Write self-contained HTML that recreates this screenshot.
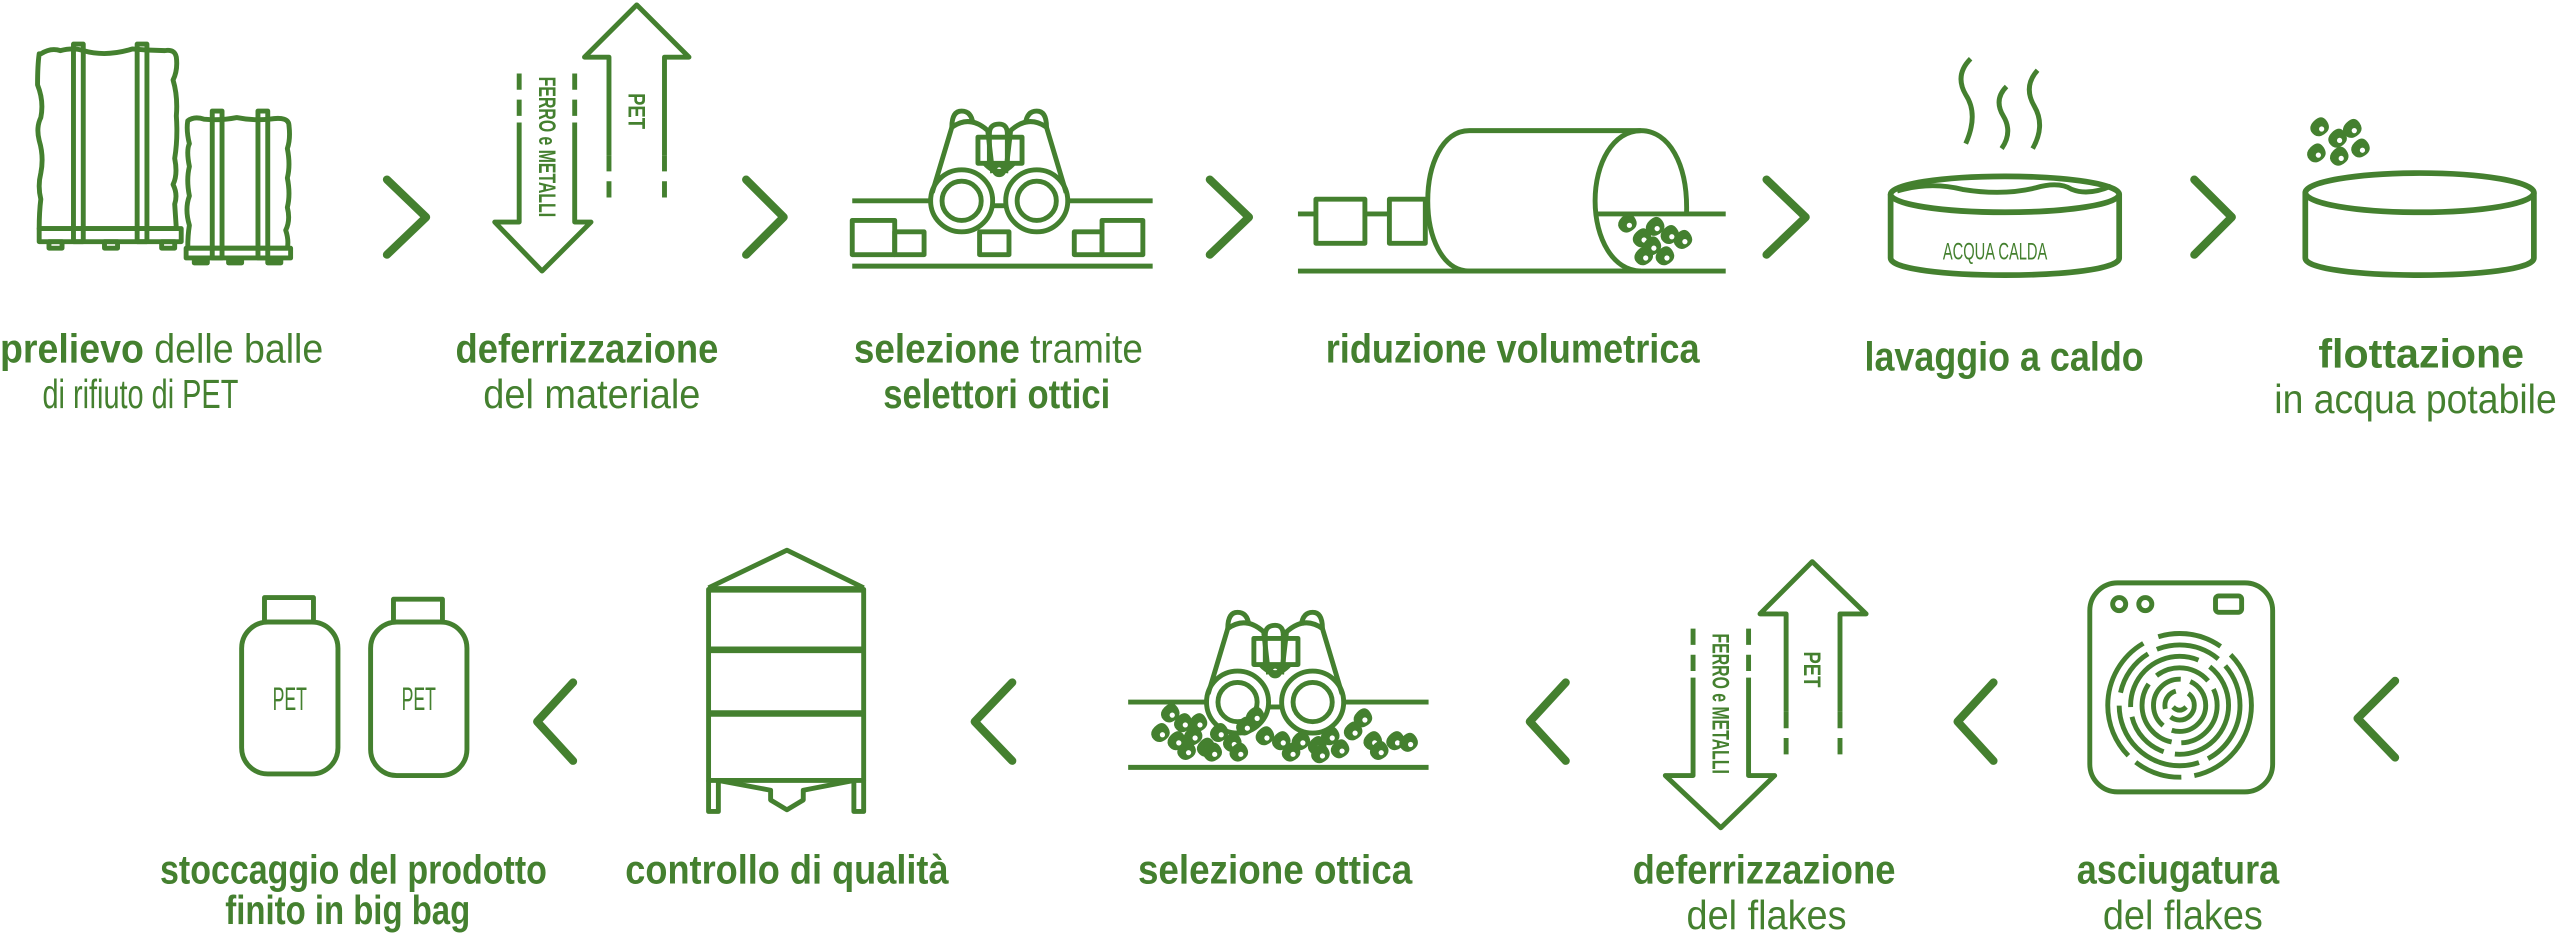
<!DOCTYPE html>
<html><head><meta charset="utf-8"><style>
html,body{margin:0;padding:0;background:#fff;}
svg{display:block;}
text{font-family:"Liberation Sans",sans-serif;fill:#44802f;}
.b{font-weight:bold;font-size:25px;}
.l{font-weight:normal;font-size:25px;}
.c{font-family:"Liberation Sans Narrow","Liberation Sans",sans-serif;font-weight:bold;font-size:15px;}
</style></head><body>
<svg width="2560" height="938" viewBox="0 0 1568 574.5" preserveAspectRatio="none" xmlns="http://www.w3.org/2000/svg">
<defs>
<g id="fl0"><path d="M-3,-3 q3,-3 5,0 q2,3 -1,5 q-3,2 -5,-1 q-1,-2 1,-4z" fill="#44802f"/><circle cx="0" cy="0" r="1" fill="#fff"/></g>
<g id="fl"><use href="#fl0" transform="scale(1.6)"/></g>
</defs>
<g fill="none" stroke="#44802f" stroke-width="3" stroke-linejoin="round">
<g stroke-width="5" stroke-linecap="round">
<polyline points="237,110 261,133 237,156"/>
<polyline points="457,110 480,133 457,156"/>
<polyline points="741,110 765,133 741,156"/>
<polyline points="1082,110 1106,133 1082,156"/>
<polyline points="1344,110 1367,133 1344,156"/>
<polyline points="1467,417 1444,440 1467,464"/>
<polyline points="1221,418 1199,442 1221,466"/>
<polyline points="959,418 937,442 959,466"/>
<polyline points="620,418 597,442 620,466"/>
<polyline points="351,418 329,442 351,466"/>
</g>
<path d="M25,33 q6,-4 12,-2 q8,-2 14,0 q14,4 30,-1 q10,1 20,1 q6,-1 7,4 q1,8 -2,14 q3,10 2,22 q1,14 -1,26 q2,10 -1,16 q3,6 1,12 L108,140 L24,140 q0,-10 1,-18 q-2,-8 0,-16 q2,-10 -1,-20 q-2,-8 1,-14 q2,-10 -2,-20 q0,-12 1,-19z"/>
<rect x="45" y="27" width="6" height="121"/><rect x="84" y="27" width="6" height="121"/>
<rect x="24" y="140" width="87" height="8"/>
<rect x="30" y="148" width="8" height="4"/><rect x="64" y="148" width="8" height="4"/><rect x="99" y="148" width="8" height="4"/>
<path d="M115,74 q4,-3 10,-1 q10,1 20,-1 q10,2 20,1 q12,-2 12,4 q1,8 -1,14 q2,10 0,18 q2,10 0,18 q2,8 -1,14 q2,6 1,11 L115,152 q0,-8 1,-14 q-3,-10 0,-18 q-2,-10 0,-18 q-2,-10 0,-14 q-2,-8 -1,-14z"/>
<rect x="130" y="68" width="6" height="90"/><rect x="158" y="68" width="6" height="90"/>
<rect x="114" y="152" width="64" height="6"/>
<rect x="119" y="158" width="8" height="3"/><rect x="140" y="158" width="8" height="3"/><rect x="164" y="158" width="8" height="3"/>
<path d="M318,75 V136 H303 L332,166 L362,136 H352 V75"/>
<path d="M318,45 V75 M352,45 V75" stroke-dasharray="10,6"/>
<path d="M373,95 V35 H358 L390,3 L422,35 H407 V95"/>
<path d="M373,95 V126 M407,95 V126" stroke-dasharray="10,6"/>
<g id="bino">
<line x1="522" y1="123" x2="571" y2="123"/><line x1="655" y1="123" x2="706" y2="123"/>
<line x1="522" y1="163" x2="706" y2="163"/>
<circle cx="589" cy="123" r="19"/><circle cx="589" cy="123" r="12"/>
<circle cx="635" cy="123" r="19"/><circle cx="635" cy="123" r="12"/>
<path d="M571,118 L583,78 Q594,70 605,80 L608,106"/>
<path d="M653,118 L641,78 Q630,70 619,80 L616,106"/>
<path d="M583,78 q0,-10 6,-10 q6,0 7,8"/><path d="M641,78 q0,-10 -6,-10 q-6,0 -7,8"/>
<rect x="599" y="84" width="27" height="16"/>
<path d="M606,100 V82 q0,-6 6,-6 q5,0 5,6 V100"/>
<circle cx="612" cy="104" r="3"/>
<path d="M603,100 q9,10 18,0"/>
<line x1="608" y1="126" x2="616" y2="126"/>
</g>
<rect x="522" y="135" width="26" height="21"/><rect x="548" y="142" width="18" height="14"/>
<rect x="600" y="142" width="18" height="14"/><rect x="658" y="142" width="17" height="14"/><rect x="675" y="135" width="25" height="21"/>
<line x1="795" y1="131" x2="806" y2="131"/><line x1="836" y1="131" x2="851" y2="131"/>
<rect x="806" y="122" width="30" height="27"/><rect x="851" y="122" width="22" height="27"/>
<line x1="795" y1="166" x2="1057" y2="166"/>
<line x1="978" y1="131" x2="1057" y2="131"/>
<path d="M1005,80 H900 C866,80 866,166 900,166 H1005"/>
<path d="M1033,131 C1034,100 1022,80 1005,80 C988,80 977,100 977,123 C977,146 988,166 1005,166"/>
<ellipse cx="1228" cy="119" rx="70" ry="11" stroke-width="3.5"/>
<path d="M1158,119 V158 C1158,172 1298,172 1298,158 V119" stroke-width="3.5"/>
<path d="M1162,117 q20,-6 40,-1 q25,4 45,-1 q14,-4 22,1 q10,4 24,-2" stroke-width="3"/>
<path d="M1207,36 q-10,10 -3,22 q8,12 0,30"/>
<path d="M1229,53 q-8,8 -2,18 q6,10 -1,20"/>
<path d="M1248,43 q-9,10 -2,22 q7,12 -1,26"/>
<ellipse cx="1482" cy="118" rx="70" ry="12" stroke-width="3.5"/>
<path d="M1412,118 V158 C1412,172 1552,172 1552,158 V118" stroke-width="3.5"/>
<rect x="162" y="366" width="30" height="15"/>
<rect x="148" y="381" width="59" height="93" rx="16"/>
<rect x="241" y="367" width="30" height="14"/>
<rect x="227" y="381" width="59" height="94" rx="16"/>
<path d="M434,360 L482,337 L529,360"/>
<rect x="434" y="361" width="95" height="117"/>
<line x1="434" y1="361" x2="529" y2="361" stroke-width="4"/>
<line x1="434" y1="398" x2="529" y2="398" stroke-width="4"/>
<line x1="434" y1="437" x2="529" y2="437" stroke-width="4"/>
<path d="M434,478 V497 H440 V478 M523,478 V497 H529 V478"/>
<path d="M440,478 L472,484 V490 L482,496 L492,490 V484 L523,478"/>
<use href="#bino" transform="translate(169,307)"/>
<path d="M1037,415 V475 H1020 L1054,507 L1087,475 H1071 V415"/>
<path d="M1037,385 V415 M1071,385 V415" stroke-dasharray="10,6"/>
<path d="M1094,436 V376 H1078 L1110,344 L1143,376 H1127 V436"/>
<path d="M1094,436 V466 M1127,436 V466" stroke-dasharray="10,6"/>
<rect x="1280" y="357" width="112" height="128" rx="17"/>
<circle cx="1298" cy="370" r="4"/><circle cx="1314" cy="370" r="4"/>
<rect x="1357" y="365" width="16" height="10" rx="2"/>
<g stroke-width="3">
<circle cx="1335" cy="432" r="44" stroke-dasharray="60,8,30,6,80,10,40,8"/>
<circle cx="1335" cy="432" r="37" stroke-dasharray="40,6,70,8,30,6"/>
<circle cx="1335" cy="432" r="30" stroke-dasharray="50,7,30,6,60,8"/>
<circle cx="1335" cy="432" r="23" stroke-dasharray="35,6,45,7"/>
<circle cx="1335" cy="432" r="16" stroke-dasharray="30,6,40,6"/>
<circle cx="1335" cy="432" r="9" stroke-dasharray="20,6,14,8"/>
<path d="M1331,433 q4,4 8,0"/>
</g>
</g>
<g>
<use href="#fl" x="998" y="138"/><use href="#fl" x="1007" y="147"/><use href="#fl" x="1015" y="140"/><use href="#fl" x="1013" y="152"/><use href="#fl" x="1024" y="145"/><use href="#fl" x="1032" y="148"/><use href="#fl" x="1008" y="158"/><use href="#fl" x="1021" y="158"/>
<use href="#fl" x="1422" y="79"/><use href="#fl" x="1433" y="86"/><use href="#fl" x="1420" y="95"/><use href="#fl" x="1434" y="97"/><use href="#fl" x="1447" y="92"/><use href="#fl" x="1442" y="80"/>
<use href="#fl" x="718" y="438"/><use href="#fl" x="726" y="444"/><use href="#fl" x="712" y="450"/><use href="#fl" x="722" y="455"/><use href="#fl" x="732" y="452"/><use href="#fl" x="728" y="461"/><use href="#fl" x="740" y="459"/><use href="#fl" x="748" y="450"/><use href="#fl" x="756" y="456"/><use href="#fl" x="764" y="446"/><use href="#fl" x="770" y="440"/><use href="#fl" x="776" y="452"/><use href="#fl" x="786" y="455"/><use href="#fl" x="798" y="455"/><use href="#fl" x="808" y="458"/><use href="#fl" x="816" y="452"/><use href="#fl" x="822" y="460"/><use href="#fl" x="830" y="449"/><use href="#fl" x="836" y="441"/><use href="#fl" x="842" y="455"/><use href="#fl" x="846" y="461"/><use href="#fl" x="856" y="455"/><use href="#fl" x="864" y="456"/><use href="#fl" x="744" y="462"/><use href="#fl" x="735" y="444"/><use href="#fl" x="810" y="463"/><use href="#fl" x="760" y="462"/><use href="#fl" x="792" y="462"/>
</g>
<text class="c" transform="translate(330,47) rotate(90)" textLength="86" lengthAdjust="spacingAndGlyphs">FERRO e METALLI</text>
<text class="c" transform="translate(385,57) rotate(90)" textLength="22" lengthAdjust="spacingAndGlyphs">PET</text>
<text class="c" transform="translate(1049,388) rotate(90)" textLength="86" lengthAdjust="spacingAndGlyphs">FERRO e METALLI</text>
<text class="c" transform="translate(1105,399) rotate(90)" textLength="22" lengthAdjust="spacingAndGlyphs">PET</text>
<text class="c" x="1190" y="159" textLength="64" lengthAdjust="spacingAndGlyphs" style="font-weight:normal;font-size:15px">ACQUA CALDA</text>
<text class="c" x="167" y="435" textLength="21" lengthAdjust="spacingAndGlyphs" style="font-weight:normal;font-size:20px">PET</text>
<text class="c" x="246" y="435" textLength="21" lengthAdjust="spacingAndGlyphs" style="font-weight:normal;font-size:20px">PET</text>
<text x="0" y="222" textLength="198" lengthAdjust="spacingAndGlyphs"><tspan class="b">prelievo</tspan><tspan class="l"> delle balle</tspan></text>
<text class="l" x="26" y="250" textLength="120" lengthAdjust="spacingAndGlyphs">di rifiuto di PET</text>
<text class="b" x="279" y="222" textLength="161" lengthAdjust="spacingAndGlyphs">deferrizzazione</text>
<text class="l" x="296" y="250" textLength="133" lengthAdjust="spacingAndGlyphs">del materiale</text>
<text x="523" y="222" textLength="177" lengthAdjust="spacingAndGlyphs"><tspan class="b">selezione</tspan><tspan class="l"> tramite</tspan></text>
<text class="b" x="541" y="250" textLength="139" lengthAdjust="spacingAndGlyphs">selettori ottici</text>
<text class="b" x="812" y="222" textLength="229" lengthAdjust="spacingAndGlyphs">riduzione volumetrica</text>
<text class="b" x="1142" y="227" textLength="171" lengthAdjust="spacingAndGlyphs">lavaggio a caldo</text>
<text class="b" x="1420" y="225" textLength="126" lengthAdjust="spacingAndGlyphs">flottazione</text>
<text class="l" x="1393" y="253" textLength="173" lengthAdjust="spacingAndGlyphs">in acqua potabile</text>
<text class="b" x="98" y="541" textLength="237" lengthAdjust="spacingAndGlyphs">stoccaggio del prodotto</text>
<text class="b" x="138" y="566" textLength="150" lengthAdjust="spacingAndGlyphs">finito in big bag</text>
<text class="b" x="383" y="541" textLength="198" lengthAdjust="spacingAndGlyphs">controllo di qualità</text>
<text class="b" x="697" y="541" textLength="168" lengthAdjust="spacingAndGlyphs">selezione ottica</text>
<text class="b" x="1000" y="541" textLength="161" lengthAdjust="spacingAndGlyphs">deferrizzazione</text>
<text class="l" x="1033" y="569" textLength="98" lengthAdjust="spacingAndGlyphs">del flakes</text>
<text class="b" x="1272" y="541" textLength="124" lengthAdjust="spacingAndGlyphs">asciugatura</text>
<text class="l" x="1288" y="569" textLength="98" lengthAdjust="spacingAndGlyphs">del flakes</text>
</svg>
</body></html>
